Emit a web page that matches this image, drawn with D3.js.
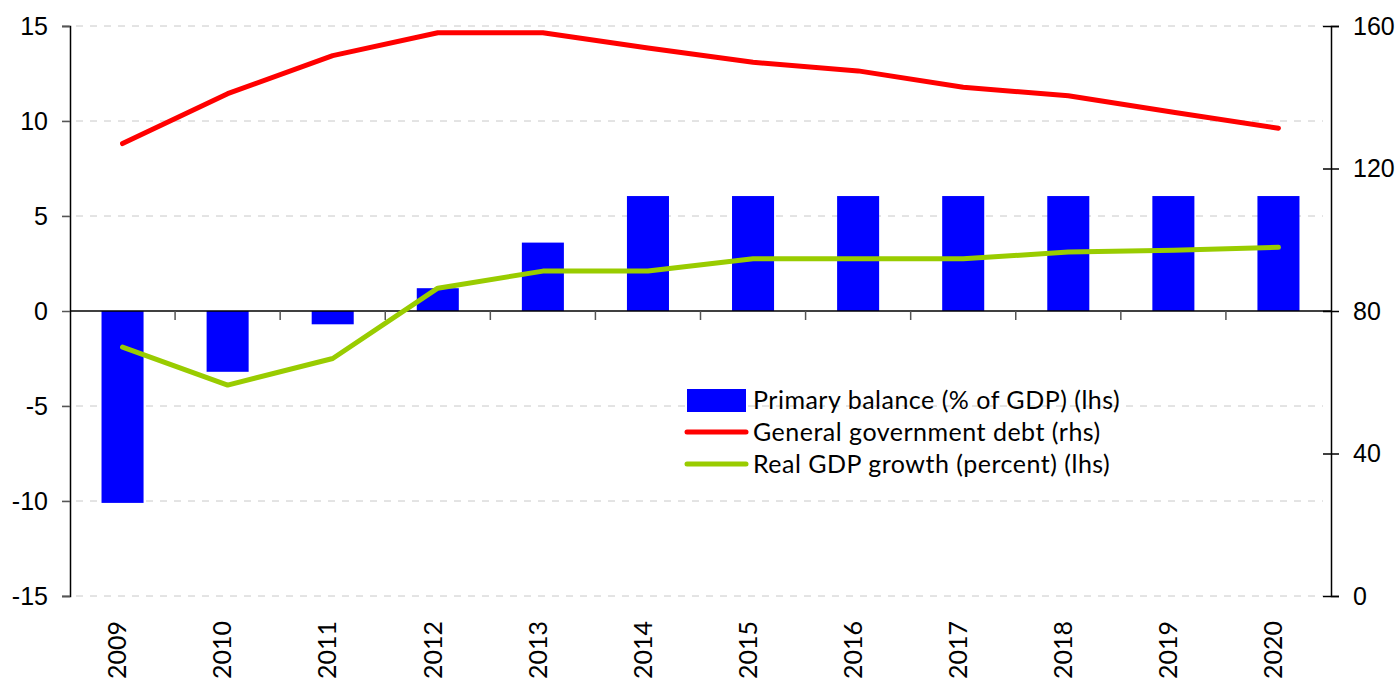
<!DOCTYPE html>
<html>
<head>
<meta charset="utf-8">
<script src="https://cdn.jsdelivr.net/npm/d3@7"></script>
<style>
  body { margin: 0; background: #fff; }
  svg { display: block; font-family: Lato, "DejaVu Sans", sans-serif; }
</style>
</head>
<body>
<div id="chart"></div>
<script>
// Données
const years = ['2009', '2010', '2011', '2012', '2013', '2014', '2015', '2016', '2017', '2018', '2019', '2020'];
const primaryBalance = [-10.1, -3.2, -0.7, 1.2, 3.6, 6.05, 6.05, 6.05, 6.05, 6.05, 6.05, 6.05];
const govDebt = [127, 141, 151.7, 158.1, 158.1, 153.8, 149.8, 147.4, 142.8, 140.4, 135.8, 131.3];
const gdpGrowth = [-1.9, -3.9, -2.5, 1.2, 2.1, 2.1, 2.75, 2.75, 2.75, 3.1, 3.2, 3.35];
const leftTicks = [-15, -10, -5, 0, 5, 10, 15];
const rightTicks = [0, 40, 80, 120, 160];
const gridValues = [-15, -10, -5, 5, 10, 15];
const legendLabels = ['Primary balance (% of GDP) (lhs)', 'General government debt (rhs)', 'Real GDP growth (percent) (lhs)'];

const width = 1400, height = 682;
const margin = { left: 70, right: 1331, top: 26, bottom: 596 };

const svg = d3.select('#chart')
    .append('svg')
    .attr('width', width)
    .attr('height', height);

// Échelles
const x = d3.scaleBand().domain(years).range([margin.left, margin.right]).padding(0);
const yL = d3.scaleLinear().domain([-15, 15]).range([margin.bottom, margin.top]);
const yR = d3.scaleLinear().domain([0, 160]).range([margin.bottom, margin.top]);
const bw = x.bandwidth();

// Grille
svg.append('g')
    .selectAll('line')
    .data(gridValues)
    .enter()
    .append('line')
    .attr('x1', margin.left - 8)
    .attr('x2', margin.right - 8)
    .attr('y1', d => yL(d))
    .attr('y2', d => yL(d))
    .attr('stroke', '#c8c8c8')
    .attr('stroke-width', 1)
    .attr('stroke-dasharray', '7,7');

// Barres
svg.append('g')
    .selectAll('rect')
    .data(years)
    .enter()
    .append('rect')
    .attr('x', d => x(d) + bw * 0.3)
    .attr('width', bw * 0.4)
    .attr('y', (d, i) => Math.min(yL(0), yL(primaryBalance[i])))
    .attr('height', (d, i) => Math.abs(yL(primaryBalance[i]) - yL(0)))
    .attr('fill', '#0000ff');

// Axe gauche
const axisL = svg.append('g')
    .attr('transform', `translate(${margin.left},0)`)
    .call(d3.axisLeft(yL).tickValues(leftTicks).tickSize(8).tickPadding(14).tickFormat(d => String(d)));
axisL.select('.domain').attr('stroke', '#000').attr('stroke-width', 1.5);
axisL.selectAll('.tick line').attr('stroke', '#555').attr('stroke-width', 1.5);
axisL.selectAll('.tick text').attr('font-size', 25).attr('fill', '#000');

// Axe droit
const axisR = svg.append('g')
    .attr('transform', `translate(${margin.right},0)`)
    .call(d3.axisRight(yR).tickValues(rightTicks).tickSize(8).tickPadding(14));
axisR.select('.domain').attr('stroke', '#000').attr('stroke-width', 1.5);
axisR.selectAll('.tick line').attr('x1', -8).attr('stroke', '#000').attr('stroke-width', 1.5);
axisR.selectAll('.tick text').attr('font-size', 25).attr('fill', '#000');

// Axe des abscisses
const xg = svg.append('g');
xg.append('line')
    .attr('x1', margin.left)
    .attr('x2', margin.right)
    .attr('y1', yL(0))
    .attr('y2', yL(0))
    .attr('stroke', '#000')
    .attr('stroke-width', 1.5);
xg.selectAll('.xtick')
    .data(years.slice(1))
    .enter()
    .append('line')
    .attr('class', 'xtick')
    .attr('x1', d => x(d))
    .attr('x2', d => x(d))
    .attr('y1', yL(0))
    .attr('y2', yL(0) + 9)
    .attr('stroke', '#555')
    .attr('stroke-width', 1.5);
xg.selectAll('.xlabel')
    .data(years)
    .enter()
    .append('text')
    .attr('class', 'xlabel')
    .attr('transform', d => `translate(${x(d) + bw / 2},621) rotate(-90)`)
    .attr('text-anchor', 'end')
    .attr('dy', '0.15em')
    .attr('font-size', 25)
    .text(d => d);

// Lignes
const lineDebt = d3.line()
    .x((d, i) => x(years[i]) + bw / 2)
    .y(d => yR(d));
const lineGrowth = d3.line()
    .x((d, i) => x(years[i]) + bw / 2)
    .y(d => yL(d));

svg.append('path')
    .datum(gdpGrowth)
    .attr('d', lineGrowth)
    .attr('fill', 'none')
    .attr('stroke', '#99cc00')
    .attr('stroke-width', 5)
    .attr('stroke-linecap', 'round')
    .attr('stroke-linejoin', 'round');

svg.append('path')
    .datum(govDebt)
    .attr('d', lineDebt)
    .attr('fill', 'none')
    .attr('stroke', '#ff0000')
    .attr('stroke-width', 5)
    .attr('stroke-linecap', 'round')
    .attr('stroke-linejoin', 'round');

// Légende
const legend = svg.append('g').attr('transform', 'translate(687,400)');
legend.append('rect')
    .attr('x', 0).attr('y', -11)
    .attr('width', 59).attr('height', 23)
    .attr('fill', '#0000ff');
legend.append('line')
    .attr('x1', 0).attr('x2', 59).attr('y1', 32).attr('y2', 32)
    .attr('stroke', '#ff0000').attr('stroke-width', 5).attr('stroke-linecap', 'round');
legend.append('line')
    .attr('x1', 0).attr('x2', 59).attr('y1', 64).attr('y2', 64)
    .attr('stroke', '#99cc00').attr('stroke-width', 5).attr('stroke-linecap', 'round');
legend.selectAll('text')
    .data(legendLabels)
    .enter()
    .append('text')
    .attr('x', 66)
    .attr('y', (d, i) => i * 32)
    .attr('dy', '0.35em')
    .attr('font-size', 25)
    .attr('letter-spacing', 0.5)
    .text(d => d);
</script>
</body>
</html>
